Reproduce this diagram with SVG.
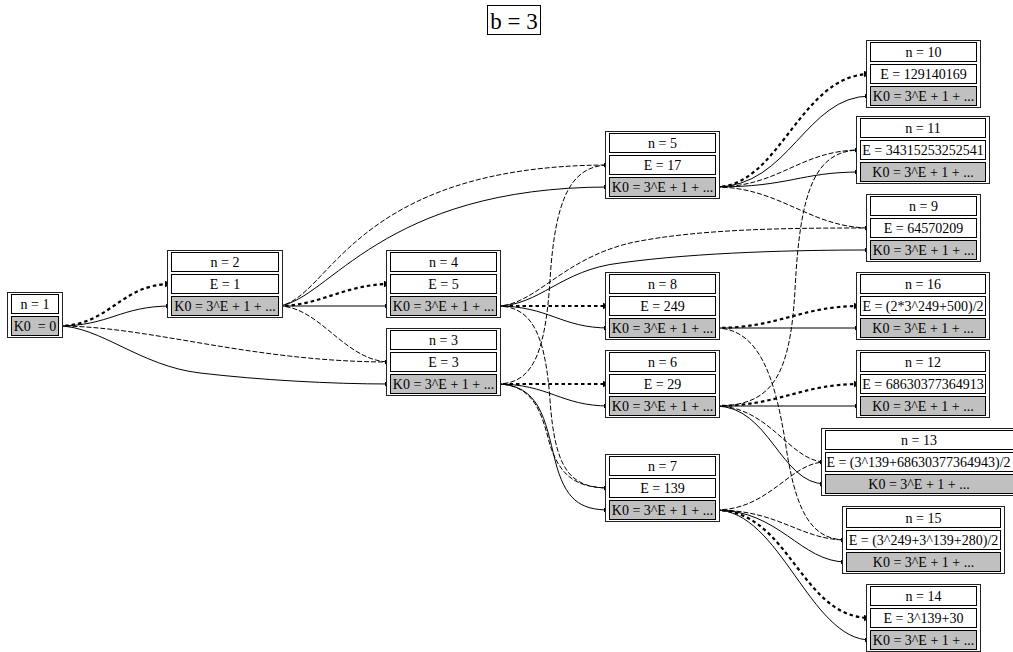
<svg xmlns="http://www.w3.org/2000/svg" width="1013" height="652" viewBox="0 0 1013 652">
<style>
text{font-family:"Liberation Serif","Times New Roman",serif;font-size:14px;text-anchor:middle;fill:#000}
.o{fill:#fff;stroke:#222;stroke-width:1}
.c{fill:#fff;stroke:#000;stroke-width:1}
.g{fill:#c0c0c0;stroke:#000;stroke-width:1}
.s{fill:none;stroke:#000;stroke-width:1;marker-end:url(#a)}
.d{fill:none;stroke:#000;stroke-width:1;stroke-dasharray:5,2;marker-end:url(#a)}
.b{fill:none;stroke:#000;stroke-width:2.2;stroke-dasharray:3.5,3;marker-end:url(#ab)}
.t{font-size:23px}
</style>
<defs>
<marker id="a" markerUnits="userSpaceOnUse" markerWidth="7" markerHeight="6" refX="6" refY="2.5" orient="auto"><path d="M0,0 L6,2.5 L0,5 z" fill="#000"/></marker>
<marker id="ab" markerUnits="userSpaceOnUse" markerWidth="9" markerHeight="8" refX="7" refY="3.5" orient="auto"><path d="M0,0 L7,3.5 L0,7 z" fill="#000"/></marker>
</defs>
<rect width="1013" height="652" fill="#fff"/>
<g id="title"><rect x="487.5" y="5.5" width="53" height="29" fill="#fff" stroke="#000"/><text class="t" x="514" y="28.5">b = 3</text></g>

<g id="edges">
<path class="b" d="M58.5,326 C110,326 120,284 171.5,284"/>
<path class="s" d="M58.5,326 C110,326 120,306 171.5,306"/>
<path class="d" d="M58.5,326 C150,326 250,362 390.5,362"/>
<path class="s" d="M58.5,326 C100,326 140,366 200,373 C260,380 330,384 390.5,384"/>
<path class="b" d="M278.5,306 C320,306 345,284 390.5,284"/>
<path class="s" d="M278.5,306 L390.5,306"/>
<path class="d" d="M278.5,306 C320,306 345,362 390.5,362"/>
<path class="d" d="M278.5,306 C330,300 350,165 609.5,165"/>
<path class="s" d="M278.5,306 C330,300 380,187 609.5,187"/>
<path class="d" d="M496.5,384 C530,384 545,360 550,280 C555,200 570,165 609.5,165"/>
<path class="b" d="M496.5,384 L609.5,384"/>
<path class="s" d="M496.5,384 C550,384 560,406 609.5,406"/>
<path class="s" d="M496.5,384 C540,384 545,420 555,460 C565,500 580,510 609.5,510"/>
<path class="d" d="M496.5,384 C535,384 542,415 550,445 C560,475 575,488 609.5,488"/>
<path class="d" d="M496.5,306 C530,306 545,330 550,400 C555,470 570,488 609.5,488"/>
<path class="b" d="M496.5,306 L609.5,306"/>
<path class="s" d="M496.5,306 C550,306 560,328 609.5,328"/>
<path class="d" d="M496.5,306 C535,306 560,260 630,243 C700,228 800,228 870.5,228"/>
<path class="s" d="M496.5,306 C540,306 560,270 620,263 C700,252 800,250 870.5,250"/>
<path class="b" d="M715.5,187 C780,187 800,74 870.5,74"/>
<path class="s" d="M715.5,187 C790,187 805,96 870.5,96"/>
<path class="d" d="M715.5,187 C780,187 800,150 860.5,150"/>
<path class="s" d="M715.5,187 C790,187 800,172 860.5,172"/>
<path class="d" d="M715.5,187 C780,187 810,228 870.5,228"/>
<path class="d" d="M715.5,406 C770,406 790,380 795,290 C800,190 815,150 860.5,150"/>
<path class="d" d="M715.5,328 C760,328 775,380 785,440 C795,510 810,540 846.5,540"/>
<path class="b" d="M715.5,328 C780,328 800,306 860.5,306"/>
<path class="s" d="M715.5,328 L860.5,328"/>
<path class="b" d="M715.5,406 C780,406 800,384 860.5,384"/>
<path class="s" d="M715.5,406 L860.5,406"/>
<path class="d" d="M715.5,406 C770,406 790,462 825.5,462"/>
<path class="s" d="M715.5,406 C770,406 780,484 825.5,484"/>
<path class="d" d="M715.5,510 C770,510 790,462 825.5,462"/>
<path class="d" d="M715.5,510 C780,510 800,540 846.5,540"/>
<path class="s" d="M715.5,510 C780,510 800,562 846.5,562"/>
<path class="b" d="M715.5,510 C790,510 800,618 870.5,618"/>
<path class="s" d="M715.5,510 C780,510 810,640 870.5,640"/>
</g>

<g id="n1"><rect class="o" x="7.5" y="292.5" width="55" height="45"/><rect class="c" x="11.5" y="294.5" width="47" height="19"/><rect class="g" x="11.5" y="316.5" width="47" height="19"/><text x="35" y="309">n = 1</text><text x="35" y="331" xml:space="preserve">K0  = 0</text></g>

<g id="n2"><rect class="o" x="167.5" y="250.5" width="115" height="67"/><rect class="c" x="171.5" y="252.5" width="107" height="19"/><rect class="c" x="171.5" y="274.5" width="107" height="19"/><rect class="g" x="171.5" y="296.5" width="107" height="19"/><text x="225" y="267">n = 2</text><text x="225" y="289">E = 1</text><text x="225" y="311">K0 = 3^E + 1 + ...</text></g>

<g id="n4"><rect class="o" x="386.5" y="250.5" width="114" height="67"/><rect class="c" x="390.5" y="252.5" width="106" height="19"/><rect class="c" x="390.5" y="274.5" width="106" height="19"/><rect class="g" x="390.5" y="296.5" width="106" height="19"/><text x="443.5" y="267">n = 4</text><text x="443.5" y="289">E = 5</text><text x="443.5" y="311">K0 = 3^E + 1 + ...</text></g>

<g id="n3"><rect class="o" x="386.5" y="328.5" width="114" height="67"/><rect class="c" x="390.5" y="330.5" width="106" height="19"/><rect class="c" x="390.5" y="352.5" width="106" height="19"/><rect class="g" x="390.5" y="374.5" width="106" height="19"/><text x="443.5" y="345">n = 3</text><text x="443.5" y="367">E = 3</text><text x="443.5" y="389">K0 = 3^E + 1 + ...</text></g>

<g id="n5"><rect class="o" x="605.5" y="131.5" width="114" height="67"/><rect class="c" x="609.5" y="133.5" width="106" height="19"/><rect class="c" x="609.5" y="155.5" width="106" height="19"/><rect class="g" x="609.5" y="177.5" width="106" height="19"/><text x="662.5" y="148">n = 5</text><text x="662.5" y="170">E = 17</text><text x="662.5" y="192">K0 = 3^E + 1 + ...</text></g>

<g id="n8"><rect class="o" x="605.5" y="272.5" width="114" height="67"/><rect class="c" x="609.5" y="274.5" width="106" height="19"/><rect class="c" x="609.5" y="296.5" width="106" height="19"/><rect class="g" x="609.5" y="318.5" width="106" height="19"/><text x="662.5" y="289">n = 8</text><text x="662.5" y="311">E = 249</text><text x="662.5" y="333">K0 = 3^E + 1 + ...</text></g>

<g id="n6"><rect class="o" x="605.5" y="350.5" width="114" height="67"/><rect class="c" x="609.5" y="352.5" width="106" height="19"/><rect class="c" x="609.5" y="374.5" width="106" height="19"/><rect class="g" x="609.5" y="396.5" width="106" height="19"/><text x="662.5" y="367">n = 6</text><text x="662.5" y="389">E = 29</text><text x="662.5" y="411">K0 = 3^E + 1 + ...</text></g>

<g id="n7"><rect class="o" x="605.5" y="454.5" width="114" height="67"/><rect class="c" x="609.5" y="456.5" width="106" height="19"/><rect class="c" x="609.5" y="478.5" width="106" height="19"/><rect class="g" x="609.5" y="500.5" width="106" height="19"/><text x="662.5" y="471">n = 7</text><text x="662.5" y="493">E = 139</text><text x="662.5" y="515">K0 = 3^E + 1 + ...</text></g>

<g id="n10"><rect class="o" x="866.5" y="40.5" width="114" height="67"/><rect class="c" x="870.5" y="42.5" width="106" height="19"/><rect class="c" x="870.5" y="64.5" width="106" height="19"/><rect class="g" x="870.5" y="86.5" width="106" height="19"/><text x="923.5" y="57">n = 10</text><text x="923.5" y="79">E = 129140169</text><text x="923.5" y="101">K0 = 3^E + 1 + ...</text></g>

<g id="n11"><rect class="o" x="856.5" y="116.5" width="133" height="67"/><rect class="c" x="860.5" y="118.5" width="125" height="19"/><rect class="c" x="860.5" y="140.5" width="125" height="19"/><rect class="g" x="860.5" y="162.5" width="125" height="19"/><text x="923" y="133">n = 11</text><text x="923" y="155">E = 34315253252541</text><text x="923" y="177">K0 = 3^E + 1 + ...</text></g>

<g id="n9"><rect class="o" x="866.5" y="194.5" width="114" height="67"/><rect class="c" x="870.5" y="196.5" width="106" height="19"/><rect class="c" x="870.5" y="218.5" width="106" height="19"/><rect class="g" x="870.5" y="240.5" width="106" height="19"/><text x="923.5" y="211">n = 9</text><text x="923.5" y="233">E = 64570209</text><text x="923.5" y="255">K0 = 3^E + 1 + ...</text></g>

<g id="n16"><rect class="o" x="856.5" y="272.5" width="133" height="67"/><rect class="c" x="860.5" y="274.5" width="125" height="19"/><rect class="c" x="860.5" y="296.5" width="125" height="19"/><rect class="g" x="860.5" y="318.5" width="125" height="19"/><text x="923" y="289">n = 16</text><text x="923" y="311">E = (2*3^249+500)/2</text><text x="923" y="333">K0 = 3^E + 1 + ...</text></g>

<g id="n12"><rect class="o" x="856.5" y="350.5" width="133" height="67"/><rect class="c" x="860.5" y="352.5" width="125" height="19"/><rect class="c" x="860.5" y="374.5" width="125" height="19"/><rect class="g" x="860.5" y="396.5" width="125" height="19"/><text x="923" y="367">n = 12</text><text x="923" y="389">E = 68630377364913</text><text x="923" y="411">K0 = 3^E + 1 + ...</text></g>

<g id="n13"><rect class="o" x="821.5" y="428.5" width="196" height="67"/><rect class="c" x="825.5" y="430.5" width="188" height="19"/><rect class="c" x="825.5" y="452.5" width="188" height="19"/><rect class="g" x="825.5" y="474.5" width="188" height="19"/><text x="919" y="445">n = 13</text><text x="918.5" y="467">E = (3^139+68630377364943)/2</text><text x="919" y="489">K0 = 3^E + 1 + ...</text></g>

<g id="n15"><rect class="o" x="842.5" y="506.5" width="162" height="67"/><rect class="c" x="846.5" y="508.5" width="154" height="19"/><rect class="c" x="846.5" y="530.5" width="154" height="19"/><rect class="g" x="846.5" y="552.5" width="154" height="19"/><text x="923.5" y="523">n = 15</text><text x="923.5" y="545">E = (3^249+3^139+280)/2</text><text x="923.5" y="567">K0 = 3^E + 1 + ...</text></g>

<g id="n14"><rect class="o" x="866.5" y="584.5" width="114" height="67"/><rect class="c" x="870.5" y="586.5" width="106" height="19"/><rect class="c" x="870.5" y="608.5" width="106" height="19"/><rect class="g" x="870.5" y="630.5" width="106" height="19"/><text x="923.5" y="601">n = 14</text><text x="923.5" y="623">E = 3^139+30</text><text x="923.5" y="645">K0 = 3^E + 1 + ...</text></g>
</svg>
